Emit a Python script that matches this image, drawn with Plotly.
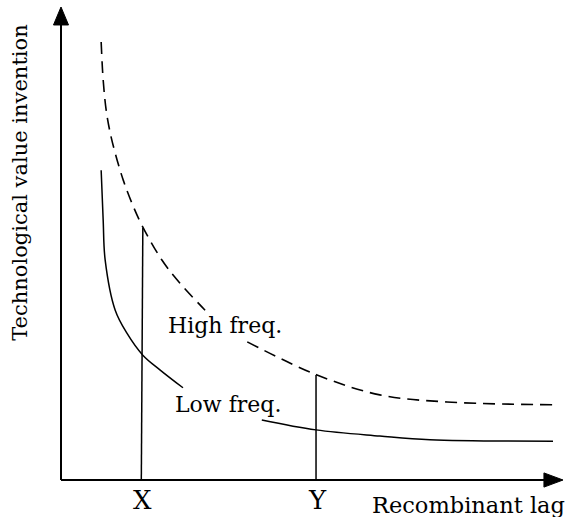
import plotly.graph_objects as go

# High frequency curve (dashed), None marks the break around its label
high_x = [0.80, 0.84, 0.90, 0.98, 1.08, 1.24, 1.41, 1.61, 2.01, 2.37, 2.87, None,
          3.71, 5.10, 6.35, 7.69, 9.80]
high_y = [9.26, 8.46, 7.82, 7.34, 6.91, 6.34, 5.86, 5.39, 4.65, 4.16, 3.59, None,
          2.92, 2.22, 1.80, 1.65, 1.59]

# Low frequency curve (solid)
low_x = [0.80, 0.84, 0.88, 1.08, 1.31, 1.63, 1.97, 2.43, None,
         4.00, 5.08, 6.35, 7.35, 9.80]
low_y = [6.55, 5.50, 4.65, 3.59, 3.11, 2.64, 2.33, 1.95, None,
         1.27, 1.06, 0.93, 0.85, 0.82]

# Reference lags
lag_labels = ["X", "Y"]
lag_x_bottom = [1.60, 5.08]
lag_x_top = [1.63, 5.08]
lag_y_top = [5.33, 2.22]

FONT = "DejaVu Serif"
FS = 22

fig = go.Figure()
fig.add_trace(go.Scatter(x=high_x, y=high_y, mode="lines",
                         line=dict(color="black", width=1.6, dash="12px,7px",
                                   shape="spline", smoothing=1.0),
                         connectgaps=False, hoverinfo="skip"))
fig.add_trace(go.Scatter(x=low_x, y=low_y, mode="lines",
                         line=dict(color="black", width=1.5, shape="spline", smoothing=1.0),
                         connectgaps=False, hoverinfo="skip"))
for xb, xt, yt in zip(lag_x_bottom, lag_x_top, lag_y_top):
    fig.add_trace(go.Scatter(x=[xb, xt], y=[0, yt], mode="lines",
                             line=dict(color="black", width=1.5), hoverinfo="skip"))

# axes with arrows
fig.add_shape(type="line", x0=0, y0=0, x1=0, y1=9.7, xref="x", yref="y",
              line=dict(color="black", width=2))
fig.add_shape(type="line", x0=0, y0=0, x1=9.7, y1=0, xref="x", yref="y",
              line=dict(color="black", width=2))
fig.add_shape(type="path", path="M 0,10 L -0.15,9.62 L 0.15,9.62 Z",
              fillcolor="black", line=dict(color="black", width=1))
fig.add_shape(type="path", path="M 10,0 L 9.62,0.15 L 9.62,-0.15 Z",
              fillcolor="black", line=dict(color="black", width=1))

ann_font = dict(family=FONT, size=FS, color="black")
for lab, xb in zip(lag_labels, lag_x_bottom):
    fig.add_annotation(x=xb + 0.02, y=-0.42, text=lab, showarrow=False,
                       xanchor="center", yanchor="middle",
                       font=dict(family=FONT, size=26, color="black"))
fig.add_annotation(x=8.12, y=-0.53, text="Recombinant lag", showarrow=False,
                   xanchor="center", yanchor="middle",
                   font=dict(family=FONT, size=22.5, color="black"))
fig.add_annotation(x=-0.82, y=6.30, text="Technological value invention",
                   showarrow=False, textangle=-90, xanchor="center", yanchor="middle",
                   font=dict(family=FONT, size=21, color="black"))
fig.add_annotation(x=3.26, y=3.26, text="High freq.", showarrow=False,
                   xanchor="center", yanchor="middle", font=ann_font)
fig.add_annotation(x=3.32, y=1.59, text="Low freq.", showarrow=False,
                   xanchor="center", yanchor="middle", font=ann_font)

fig.update_layout(
    width=570, height=517,
    margin=dict(l=0, r=0, t=0, b=0),
    plot_bgcolor="white", paper_bgcolor="white",
    showlegend=False,
    xaxis=dict(range=[-1.215, 10.139], visible=False, fixedrange=True),
    yaxis=dict(range=[-0.782, 10.148], visible=False, fixedrange=True),
)
fig.write_html("out.html", config={"displayModeBar": False},
               post_script="document.body.style.margin='0';document.body.style.overflow='hidden';")
